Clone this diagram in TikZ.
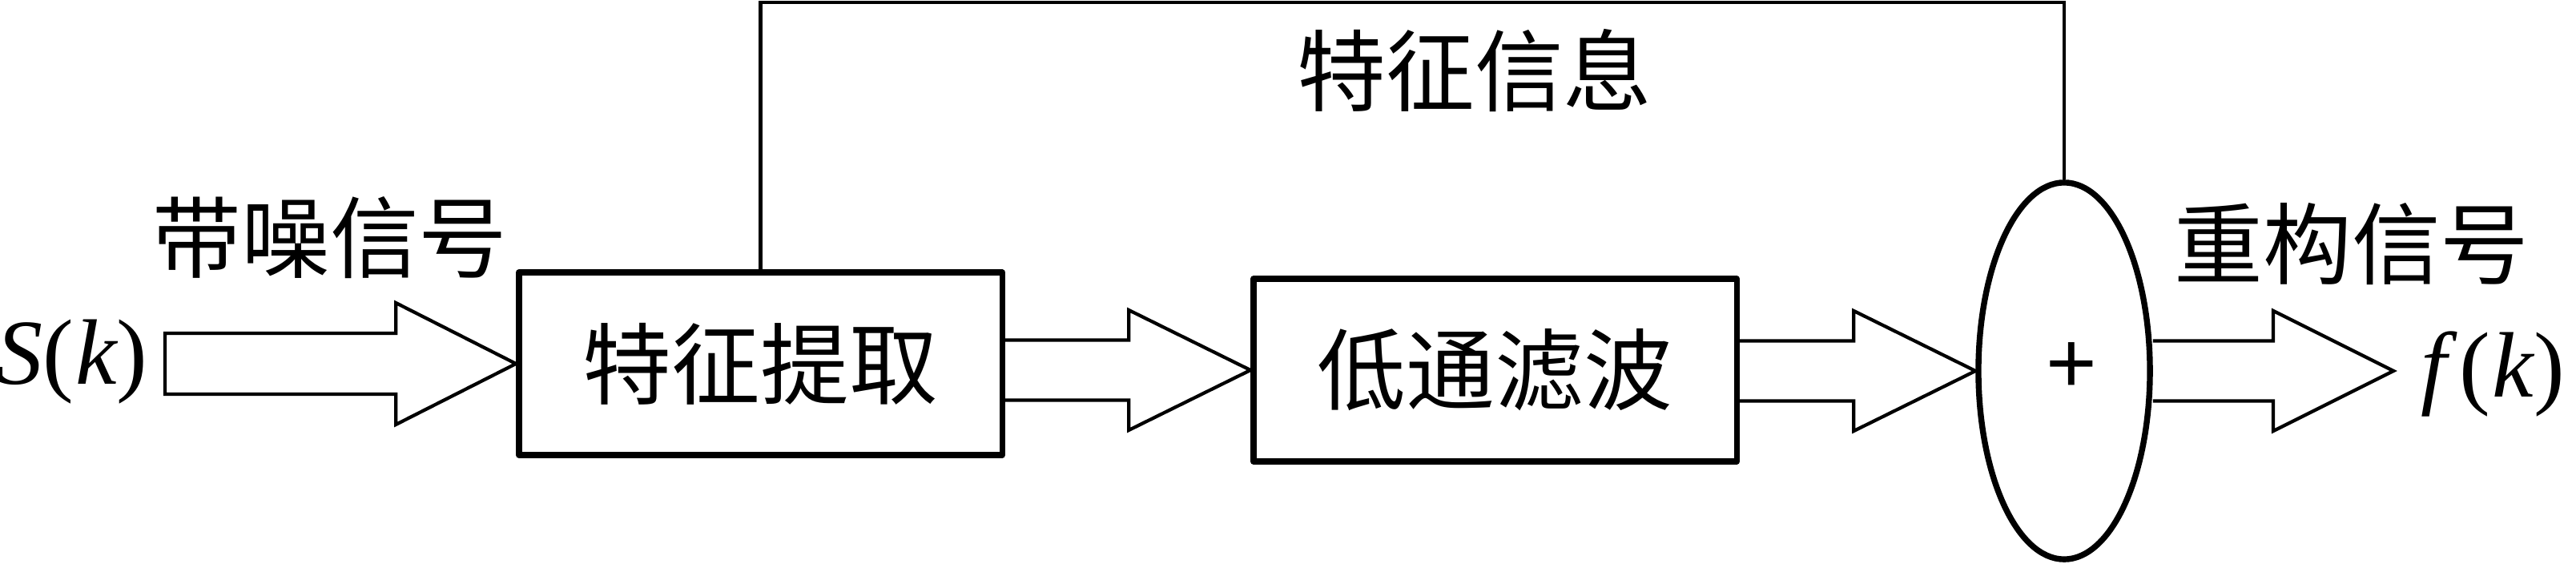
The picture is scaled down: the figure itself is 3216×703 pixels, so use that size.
\documentclass[tikz,border=0pt]{standalone}
\usepackage{fontspec}
\setmainfont{Liberation Serif}
\newfontfamily\tnr{Liberation Serif}
\newfontfamily\cjk{Noto Sans CJK SC}
\newfontfamily\plusfont{Liberation Sans}
\usetikzlibrary{shapes.geometric,calc}
\begin{document}
\begin{tikzpicture}[x=0.01cm,y=-0.01cm,
  box/.style={draw,line width=2.1pt,line join=round,minimum width=6.03cm,minimum height=2.28cm,inner sep=0pt,
    font=\cjk\fontsize{31.5}{32}\selectfont},
  blk/.style={draw,line width=1.2pt,line join=miter},
  thinline/.style={draw,line width=1.15pt,line join=miter},
  cjklabel/.style={font=\cjk\fontsize{31.5}{32}\selectfont,inner sep=0pt},
  mathlabel/.style={font=\tnr\fontsize{33}{34}\selectfont,inner sep=0pt}]
\useasboundingbox (0,0) rectangle (3216,703);

% blocks
\node[box] (b1) at (949.5,454) {特征提取};
\node[box] (b2) at (1866.5,462) {低通滤波};
\node[draw,ellipse,line width=2.1pt,minimum width=2.14cm,minimum height=4.70cm,inner sep=0pt] (sum) at (2577,463) {};
\node[font=\plusfont\fontsize{31}{32}\selectfont,inner sep=0pt] (plus) at (2586,459) {+};

% labels
\node[cjklabel] (lnoise) at (412,297) {带噪信号};
\node[cjklabel] (lfeat) at (1841,88) {特征信息};
\node[cjklabel] (lrec) at (2936,305) {重构信号};
\node[mathlabel] (sk) at (90,452) {{\itshape S}(\kern0.02em{\itshape k})};
\node[mathlabel] (fk) at (3112,467) {{\itshape f}\kern0.14em(\kern0.02em{\itshape k})};

% feedback line
\coordinate (top) at (0,3);
\draw[thinline] (b1.north) -- (b1.north |- top) -- (sum.north |- top) -- (sum.north);

% arrow 1 (closed)
\coordinate (in) at (206,454);
\draw[blk] ($(in)+(0,-38)$) -- ($(b1.west)+(-150,-38)$) -- ($(b1.west)+(-150,-76)$) -- (b1.west)
  -- ($(b1.west)+(-150,76)$) -- ($(b1.west)+(-150,38)$) -- ($(in)+(0,38)$) -- cycle;

% arrow 2
\coordinate (s2a) at ($(b2.west)+(-152,-37.5)$);
\coordinate (h2a) at ($(b2.west)+(-152,-75)$);
\coordinate (h2b) at ($(b2.west)+(-152,75)$);
\coordinate (s2b) at ($(b2.west)+(-152,37.5)$);
\draw[blk] (b1.east |- s2a) -- (s2a) -- (h2a) -- (b2.west) -- (h2b) -- (s2b) -- (b1.east |- s2b);

% arrow 3
\coordinate (s3a) at ($(sum.west)+(-152,-37.5)$);
\coordinate (h3a) at ($(sum.west)+(-152,-75)$);
\coordinate (h3b) at ($(sum.west)+(-152,75)$);
\coordinate (s3b) at ($(sum.west)+(-152,37.5)$);
\draw[blk] (b2.east |- s3a) -- (s3a) -- (h3a) -- (sum.west) -- (h3b) -- (s3b) -- (b2.east |- s3b);

% arrow 4
\coordinate (out) at (2988,463);
\coordinate (s4a) at ($(out)+(-150,-37.5)$);
\coordinate (h4a) at ($(out)+(-150,-75)$);
\coordinate (h4b) at ($(out)+(-150,75)$);
\coordinate (s4b) at ($(out)+(-150,37.5)$);
\draw[blk] (sum.east |- s4a) -- (s4a) -- (h4a) -- (out) -- (h4b) -- (s4b) -- (sum.east |- s4b);
\end{tikzpicture}
\end{document}
